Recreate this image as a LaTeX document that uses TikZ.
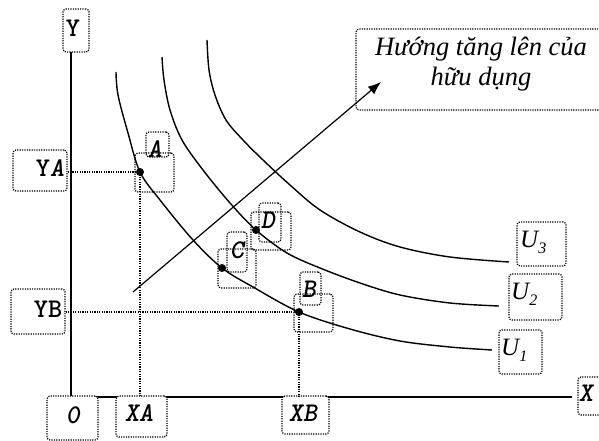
\documentclass[tikz,border=0pt]{standalone}
\usepackage{fontspec}
\newfontfamily\vnserif{Liberation Serif}
\usetikzlibrary{arrows.meta}
\tikzset{
  lbox/.style={draw, dash pattern=on 1.2pt off 1.2pt, line width=1.2pt, rounded corners=3pt, inner sep=0pt},
  wbox/.style={lbox, fill=white},
  guide/.style={dash pattern=on 1.2pt off 1.2pt, line width=1.2pt},
  axisline/.style={line width=1.6pt},
  curve/.style={line width=1.4pt},
  mono/.style={font=\fontsize{27}{30}\selectfont\ttfamily\bfseries, inner sep=0pt},
  monoit/.style={font=\fontsize{27}{30}\selectfont\ttfamily\bfseries\itshape, inner sep=0pt},
  ulab/.style={font=\fontsize{25}{28}\selectfont\vnserif\itshape, inner sep=0pt},
  big/.style={font=\fontsize{26.5}{30}\selectfont\vnserif\itshape, align=center, inner sep=0pt},
  ptdot/.style={circle, fill=black, minimum size=8pt, inner sep=0pt}
}
\begin{document}
\begin{tikzpicture}[x=1pt,y=-1pt]
\clip (0,0) rectangle (599,441);
\useasboundingbox (0,0) rectangle (599,441);
% axes
\coordinate (O) at (71,397);
\coordinate (Yend) at (71,52);
\coordinate (Xend) at (572,397);
\draw[axisline] (Yend) -- (O) -- (Xend);
% points
\coordinate (A) at (140,172);
\coordinate (C) at (222,268);
\coordinate (D) at (256,230);
\coordinate (B) at (299,312);
% axis boxes
\node[lbox, minimum width=26pt, minimum height=43pt] (bY) at (76,30.5) {};
\node[mono] (Y) at (73,28) {Y};
\node[lbox, minimum width=30pt, minimum height=38pt] (bX) at (593,396) {};
\node[monoit] (X) at (586,393) {X};
\node[lbox, minimum width=54pt, minimum height=41pt] (bYA) at (40,170.5) {};
\node[mono] (YA) at (50,168) {Y\textit{A}};
\node[lbox, minimum width=54pt, minimum height=45pt] (bYB) at (38,311.5) {};
\node[mono] (YB) at (48,309) {YB};
\node[wbox, minimum width=51pt, minimum height=44pt] (bO) at (72.5,418) {};
\node[monoit] (zero) at (73,415) {0};
\node[wbox, minimum width=51pt, minimum height=41pt] (bXA) at (141.5,416.5) {};
\node[monoit] (XA) at (139,413) {XA};
\node[wbox, minimum width=47pt, minimum height=38pt] (bXB) at (305.5,415) {};
\node[monoit] (XB) at (303,413) {XB};
% guide lines
\draw[guide] (bYA.east |- A) -- (A);
\draw[guide] (A) -- (A |- O);
\draw[guide] (bYB.east |- B) -- (B);
\draw[guide] (B) -- (B |- O);
% indifference curves
\draw[curve] plot[smooth, tension=0.55] coordinates {(116,72) (118,95) (128,133) (A) (160,200) (193,240) (C) (253,287) (B) (350,329) (400,341) (450,347) (492,350)};
\draw[curve] plot[smooth, tension=0.55] coordinates {(162,57) (164,80) (170,110) (182,140) (203,170) (230,203) (D) (287,253) (320,268) (360,283) (400,295) (450,303) (499,306)};
\draw[curve] plot[smooth, tension=0.55] coordinates {(207,40) (209,70) (215,95) (226,120) (243,140) (263,160) (290,185) (320,210) (360,232) (400,247) (450,257) (509,262)};
% point label boxes
\node[lbox, minimum width=23pt, minimum height=25pt] (bA) at (157.5,144.5) {};
\node[lbox, minimum width=39pt, minimum height=39pt] (bA2) at (154.5,172.5) {};
\node[monoit] (lA) at (155,149) {A};
\node[lbox, minimum width=22pt, minimum height=39pt] (bD) at (270,222.5) {};
\node[lbox, minimum width=40pt, minimum height=38pt] (bD2) at (271,231) {};
\node[monoit] (lD) at (268,220) {D};
\node[lbox, minimum width=20pt, minimum height=40pt] (bC) at (237,252) {};
\node[lbox, minimum width=38pt, minimum height=39pt] (bC2) at (237,268.5) {};
\node[monoit] (lC) at (237,250) {C};
\node[lbox, minimum width=21pt, minimum height=33pt] (bB) at (310.5,288.5) {};
\node[lbox, minimum width=39pt, minimum height=38pt] (bB2) at (313.5,313) {};
\node[monoit] (lB) at (309,289) {B};
% dots
\node[ptdot] (dA) at (A) {};
\node[ptdot] (dC) at (C) {};
\node[ptdot] (dD) at (D) {};
\node[ptdot] (dB) at (B) {};
% U labels
\node[lbox, minimum width=49pt, minimum height=44pt] (bU3) at (541.5,244) {};
\node[ulab, anchor=west] (U3) at (520,242) {U\raisebox{-6pt}{\fontsize{16}{16}\selectfont 3}};
\node[lbox, minimum width=53pt, minimum height=46pt] (bU2) at (535.5,297) {};
\node[ulab, anchor=west] (U2) at (511,294) {U\raisebox{-6pt}{\fontsize{16}{16}\selectfont 2}};
\node[lbox, minimum width=43pt, minimum height=44pt] (bU1) at (520.5,352) {};
\node[ulab, anchor=west] (U1) at (501,350) {U\raisebox{-6pt}{\fontsize{16}{16}\selectfont 1}};
% direction arrow
\coordinate (arrS) at (133,292);
\node[lbox, minimum width=250pt, minimum height=81pt] (bBig) at (481,69.5) {};
\node[big] (txt) at (481,64) {Hướng tăng lên của\\hữu dụng};
\coordinate (arrE) at (381,82);
\draw[line width=1.2pt, -{Latex[length=13pt,width=10pt]}] (arrS) -- (arrE);
\end{tikzpicture}
\end{document}
